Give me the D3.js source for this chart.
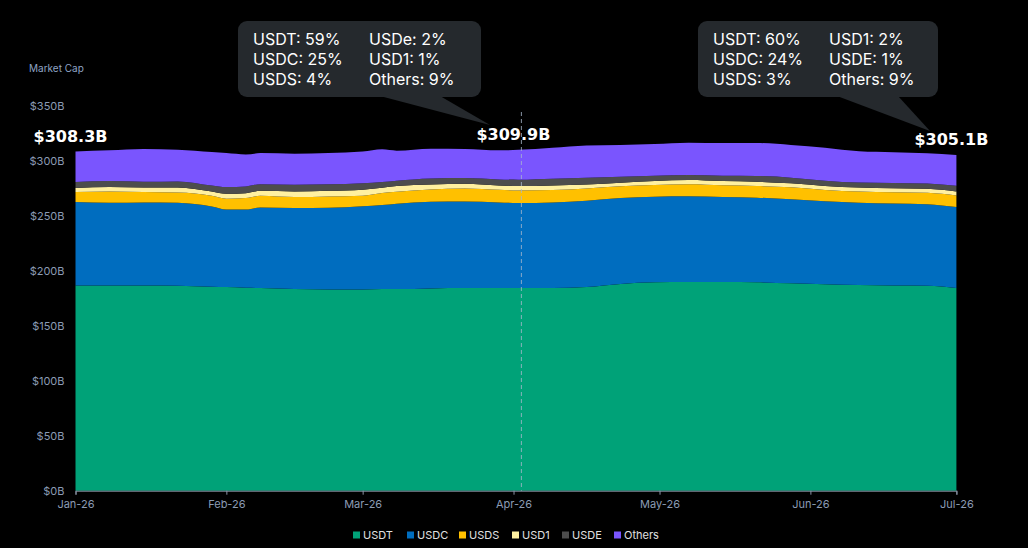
<!DOCTYPE html>
<html>
<head>
<meta charset="utf-8">
<script src="https://cdn.jsdelivr.net/npm/d3@7"></script>
<style>
  html, body { margin: 0; padding: 0; background: #000; }
  svg { display: block; }
</style>
</head>
<body>
<script>
// Sample dates (roughly weekly) and stablecoin market caps in $B
const dates = [
  '2026-01-01', '2026-01-08', '2026-01-15', '2026-01-22', '2026-01-29',
  '2026-02-01', '2026-02-05', '2026-02-08', '2026-02-15', '2026-02-22',
  '2026-03-01', '2026-03-05', '2026-03-08', '2026-03-15', '2026-03-22',
  '2026-03-29', '2026-04-02', '2026-04-09', '2026-04-16', '2026-04-23',
  '2026-04-30', '2026-05-07', '2026-05-14', '2026-05-21', '2026-05-28',
  '2026-06-04', '2026-06-11', '2026-06-18', '2026-06-25', '2026-07-01',
];
const usdt = [186.6, 186.6, 186.6, 186.3, 185.4, 185.1, 184.5, 184.2, 183.3, 183.0,
  183.0, 183.3, 183.3, 183.9, 184.2, 184.2, 184.2, 184.2, 185.1, 187.9,
  189.4, 189.7, 189.7, 189.4, 188.5, 187.6, 186.9, 186.6, 186.3, 184.2];
const usdc = [75.8, 75.2, 75.5, 75.5, 73.0, 70.6, 71.2, 73.3, 73.6, 74.2,
  75.5, 76.4, 77.6, 78.8, 78.8, 77.9, 77.3, 77.9, 78.5, 78.2,
  77.9, 77.9, 77.3, 77.0, 76.4, 75.5, 74.8, 74.5, 74.2, 73.6];
const usds = [9.1, 10.3, 9.4, 9.4, 9.7, 9.7, 10.3, 10.6, 10.0, 10.3,
  9.7, 10.9, 10.9, 11.2, 11.8, 11.5, 11.5, 11.2, 11.2, 10.6,
  10.6, 10.9, 10.6, 10.6, 10.9, 10.3, 10.3, 10.3, 10.3, 10.6];
const usd1 = [3.6, 3.9, 4.2, 4.5, 3.9, 4.5, 4.5, 4.5, 5.2, 5.2,
  5.5, 4.8, 5.2, 4.5, 4.2, 3.9, 3.9, 4.2, 3.6, 3.3,
  3.6, 3.9, 3.9, 3.9, 3.6, 3.6, 3.6, 3.6, 3.6, 3.6];
const usde = [5.5, 5.5, 5.2, 5.5, 5.5, 6.1, 6.1, 6.1, 6.1, 5.8,
  5.8, 5.2, 4.8, 5.5, 5.2, 5.5, 5.8, 6.1, 6.1, 5.5,
  4.8, 4.5, 4.8, 5.2, 5.2, 4.8, 4.5, 4.8, 4.8, 5.2];
const others = [27.7, 27.9, 29.7, 28.8, 30.3, 30.9, 29.1, 28.2, 28.2, 28.5,
  28.8, 29.7, 27.3, 27.0, 26.4, 26.4, 27.2, 28.2, 29.4, 28.8,
  28.8, 29.4, 29.7, 30.0, 29.7, 30.0, 28.5, 27.9, 27.6, 27.9];

const seriesKeys = ['USDT', 'USDC', 'USDS', 'USD1', 'USDE', 'Others'];
const seriesColors = ['#00a278', '#006dbf', '#ffc000', '#fff0a0', '#4d4d4d', '#7a55fe'];
const yTicks = [0, 50, 100, 150, 200, 250, 300, 350];

// Highlighted dates with their share breakdowns
const markers = ['2026-01-01', '2026-04-02', '2026-07-01'];
const callout1 = ['USDT: 59%', 'USDC: 25%', 'USDS: 4%', 'USDe: 2%', 'USD1: 1%', 'Others: 9%'];
const callout2 = ['USDT: 60%', 'USDC: 24%', 'USDS: 3%', 'USD1: 2%', 'USDE: 1%', 'Others: 9%'];

const width = 1028;
const height = 548;
const parse = d3.timeParse('%Y-%m-%d');

const rows = dates.map((d, i) => ({
  date: parse(d),
  USDT: usdt[i], USDC: usdc[i], USDS: usds[i],
  USD1: usd1[i], USDE: usde[i], Others: others[i],
}));

const x = d3.scaleTime()
  .domain([parse('2026-01-01'), parse('2026-07-01')])
  .range([75.5, 956.4]);
const y = d3.scaleLinear()
  .domain([0, 350])
  .range([490.7, 105.7]);

const svg = d3.select('body').append('svg')
  .attr('width', width)
  .attr('height', height)
  .style('background', '#000');

const stack = d3.stack().keys(seriesKeys);
const layers = stack(rows);

const area = d3.area()
  .x((d) => x(d.data.date))
  .y0((d) => y(d[0]))
  .y1((d) => y(d[1]))
  .curve(d3.curveMonotoneX);

svg.append('g')
  .selectAll('path')
  .data(layers)
  .join('path')
  .attr('fill', (d, i) => seriesColors[i])
  .attr('d', area);

// x axis
const xAxis = svg.append('g')
  .attr('transform', `translate(0,${y(0)})`)
  .call(d3.axisBottom(x)
    .ticks(d3.timeMonth.every(1))
    .tickFormat(d3.timeFormat('%b-%y'))
    .tickSize(4)
    .tickPadding(6));
xAxis.select('.domain').attr('stroke', '#8a94a6');
xAxis.selectAll('.tick line').attr('stroke', '#8a94a6');
xAxis.selectAll('.tick text')
  .attr('fill', '#8b9bb4')
  .style('font-family', 'Inter, sans-serif')
  .style('font-size', '11px');

// y axis (labels only)
const yAxis = svg.append('g')
  .attr('transform', 'translate(75.5,0)')
  .call(d3.axisLeft(y)
    .tickValues(yTicks)
    .tickFormat((d) => `$${d}B`)
    .tickSize(0)
    .tickPadding(11));
yAxis.select('.domain').remove();
yAxis.selectAll('.tick text')
  .attr('fill', '#8b9bb4')
  .style('font-family', 'Inter, sans-serif')
  .style('font-size', '11px');

svg.append('text')
  .attr('x', 29)
  .attr('y', 72)
  .attr('fill', '#8fa4c4')
  .style('font-family', 'Inter, sans-serif')
  .style('font-size', '10px')
  .text('Market Cap');

// dashed hover line
const hoverDate = parse(markers[1]);
svg.append('line')
  .attr('x1', x(hoverDate) + 3)
  .attr('x2', x(hoverDate) + 3)
  .attr('y1', 112)
  .attr('y2', y(0))
  .attr('stroke', '#a9b8cc')
  .attr('stroke-opacity', 0.8)
  .attr('stroke-width', 1)
  .attr('stroke-dasharray', '4,3');

// callout bubbles
function callout(box, tip, base, labels) {
  const g = svg.append('g');
  g.append('path')
    .attr('d', `M${base[0]},${box.y + box.h - 1}L${tip[0]},${tip[1]}L${base[1]},${box.y + box.h - 1}Z`)
    .attr('fill', '#25292d');
  g.append('rect')
    .attr('x', box.x).attr('y', box.y)
    .attr('width', box.w).attr('height', box.h)
    .attr('rx', 9)
    .attr('fill', '#25292d');
  labels.forEach((t, i) => {
    g.append('text')
      .attr('x', box.x + 15 + Math.floor(i / 3) * 116)
      .attr('y', box.y + 24 + (i % 3) * 20)
      .attr('fill', '#ffffff')
      .style('font-family', 'Inter, sans-serif')
      .style('font-size', '16px')
      .text(t);
  });
}
callout({ x: 238, y: 21, w: 243, h: 76 }, [490, 125], [380, 440], callout1);
callout({ x: 698, y: 21, w: 240, h: 76 }, [930, 131], [837, 898], callout2);

// totals above the stack
const totals = markers.map((m) => rows.find((r) => +r.date === +parse(m)));
svg.append('g')
  .selectAll('text')
  .data(totals)
  .join('text')
  .attr('x', (d) => x(d.date) - 5)
  .attr('y', (d) => y(d3.sum(seriesKeys, (k) => d[k])) - 10)
  .attr('text-anchor', 'middle')
  .attr('fill', '#ffffff')
  .style('font-family', '"DejaVu Sans", sans-serif')
  .style('font-weight', 'bold')
  .style('font-size', '16px')
  .text((d) => `$${d3.sum(seriesKeys, (k) => d[k]).toFixed(1)}B`);

// legend
const legendX = [353, 407, 459, 512, 562, 614];
const legend = svg.append('g');
seriesKeys.forEach((k, i) => {
  legend.append('rect')
    .attr('x', legendX[i]).attr('y', 531.5)
    .attr('width', 7).attr('height', 7)
    .attr('fill', seriesColors[i]);
  legend.append('text')
    .attr('x', legendX[i] + 10)
    .attr('y', 539)
    .attr('fill', '#e0e0e0')
    .style('font-family', 'Inter, sans-serif')
    .style('font-size', '11px')
    .text(k);
});
</script>
</body>
</html>
